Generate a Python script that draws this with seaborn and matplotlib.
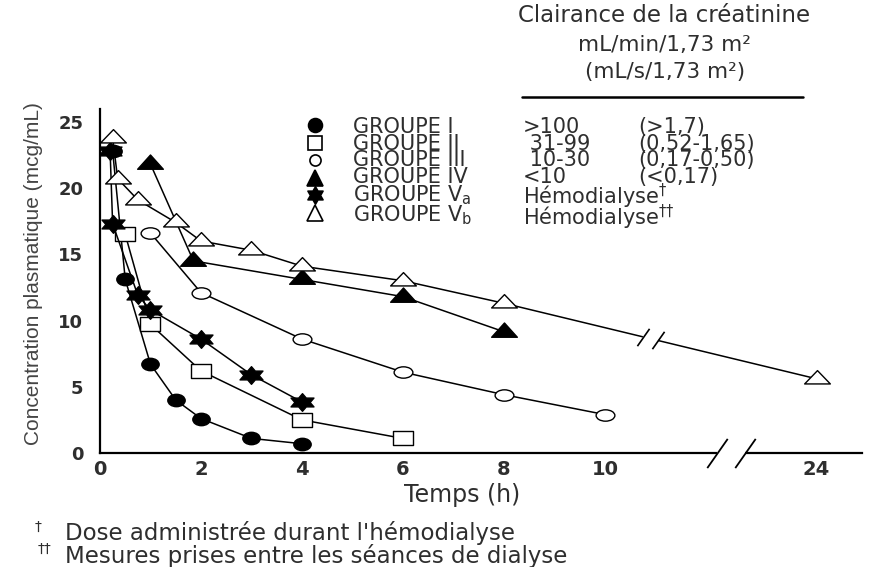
import numpy as np
import pandas as pd
import matplotlib
matplotlib.use("Agg")
import matplotlib.pyplot as plt
import seaborn as sns
from matplotlib.path import Path
from matplotlib.lines import Line2D

# ---------------- data ----------------
t_I = [0.25, 0.5, 1, 1.5, 2, 3, 4]
c_I = [22.8, 13.1, 6.7, 4.0, 2.6, 1.1, 0.7]
t_II = [0.5, 1, 2, 4, 6]
c_II = [16.5, 9.7, 6.2, 2.5, 1.1]
t_III = [1, 2, 4, 6, 8, 10]
c_III = [16.6, 12.1, 8.6, 6.1, 4.4, 2.9]
t_IV = [1, 1.85, 4, 6, 8]
c_IV = [21.8, 14.5, 13.1, 11.8, 9.15]
t_Va = [0.2, 0.25, 0.75, 1, 2, 3, 4]
c_Va = [22.8, 17.3, 11.9, 10.8, 8.6, 5.9, 3.85]
t_Vb = [0.25, 0.35, 0.75, 1.5, 2, 3, 4, 6, 8, 24]
c_Vb = [23.8, 20.7, 19.1, 17.4, 16.0, 15.3, 14.1, 13.0, 11.3, 5.6]

group_labels = ["GROUPE I", "GROUPE II", "GROUPE III", "GROUPE IV",
                r"GROUPE V$_\mathregular{a}$", r"GROUPE V$_\mathregular{b}$"]
clear_min = [">100", " 31-99", " 10-30", "<10"]
clear_dial = [r"Hémodialyse$^{\dag}$", r"Hémodialyse$^{\dag\dag}$"]
clear_s = ["(>1,7)", "(0,52-1,65)", "(0,17-0,50)", "(<0,17)"]
x_ticks = [0, 2, 4, 6, 8, 10, 24]
y_ticks = [0, 5, 10, 15, 20, 25]

header = ["Clairance de la créatinine", "mL/min/1,73 m²", "(mL/s/1,73 m²)"]
footnotes = ["Dose administrée durant l'hémodialyse",
             "Mesures prises entre les séances de dialyse"]
xlabel = "Temps (h)"
ylabel = "Concentration plasmatique (mcg/mL)"

# ---------------- styling ----------------
sns.set_style("white")
plt.rcParams["font.family"] = ["DejaVu Sans"]
TXT = "#2e2e2e"

W, H = 896, 567
def fx(px): return px / W
def fy(py): return 1 - py / H

# broken x axis through a function scale
BRK, K = 11.0, 0.2454
def fwd(x):
    x = np.asarray(x, float)
    return np.where(x <= BRK, x, BRK + (x - BRK) * K)
def inv(s):
    s = np.asarray(s, float)
    return np.where(s <= BRK, s, BRK + (s - BRK) / K)

# stretched marker shapes
def ellipse(sx):
    p = Path.unit_circle()
    return Path(p.vertices * [sx, 1], p.codes)
def rect(sx):
    v = np.array([(-0.5, -0.5), (0.5, -0.5), (0.5, 0.5), (-0.5, 0.5), (-0.5, -0.5)])
    return Path(v * [sx, 1], [Path.MOVETO] + [Path.LINETO] * 3 + [Path.CLOSEPOLY])
def tri(sx):
    v = np.array([(0, 1), (-0.866, -0.5), (0.866, -0.5), (0, 1)])
    return Path(v * [sx, 1], [Path.MOVETO, Path.LINETO, Path.LINETO, Path.CLOSEPOLY])
def hexagram(sx):
    ang = np.deg2rad(90 + 30 * np.arange(12))
    r = np.where(np.arange(12) % 2 == 0, 1.0, 0.577)
    v = np.c_[r * np.cos(ang) * sx, r * np.sin(ang)]
    v = np.vstack([v, v[:1]])
    return Path(v, [Path.MOVETO] + [Path.LINETO] * 11 + [Path.CLOSEPOLY])

series = [
    (t_I, c_I, ellipse(1.4), 12.5, "black"),
    (t_II, c_II, rect(1.57), 15.0, "white"),
    (t_III, c_III, ellipse(1.65), 13.5, "white"),
    (t_IV, c_IV, tri(1.56), 18.5, "black"),
    (t_Va, c_Va, hexagram(1.5), 16.5, "black"),
    (t_Vb, c_Vb, tri(1.67), 18.5, "white"),
]

fig = plt.figure(figsize=(W / 100, H / 100), dpi=100)
ax = fig.add_axes([fx(100), fy(453), 761.5 / W, 344.5 / H])

for i, (t, c, mk, ms, face) in enumerate(series):
    df = pd.DataFrame({"t": t, "c": c})
    sns.lineplot(data=df, x="t", y="c", ax=ax, color="black", linewidth=1.1,
                 marker=mk, markersize=ms, markerfacecolor=face,
                 markeredgecolor="black", markeredgewidth=1.0,
                 errorbar=None, legend=False, zorder=3 + i * 0.01)

ax.set_xscale("function", functions=(fwd, inv))
ax.set_xlim(0, float(inv(15.08)))
ax.set_ylim(0, 26)
ax.set_xticks(x_ticks, labels=[str(v) for v in x_ticks], fontweight="bold",
              fontsize=14, color=TXT)
ax.set_yticks(y_ticks, labels=[str(v) for v in y_ticks], fontweight="bold",
              fontsize=13, color=TXT)
ax.xaxis.set_minor_locator(matplotlib.ticker.NullLocator())
ax.tick_params(axis="x", direction="in", length=6, width=1.3, pad=5, colors="black",
               labelcolor=TXT)
ax.tick_params(axis="y", direction="in", length=6, width=1.3, pad=12, colors="black",
               labelcolor=TXT)
sns.despine(ax=ax)
for s in ("left", "bottom"):
    ax.spines[s].set_linewidth(1.6)
    ax.spines[s].set_color("black")

ax.set_xlabel(xlabel, fontsize=17, color=TXT)
ax.xaxis.set_label_coords(0.475, -0.087)
ax.set_ylabel(ylabel, fontsize=15, color="#444444",
              fontfamily=["Liberation Sans", "DejaVu Sans"])
ax.yaxis.set_label_coords(-0.075, 0.522)

# axis break marks
slash = Path([(-0.35, -0.5), (0.35, 0.5)], [Path.MOVETO, Path.LINETO])
AX_BRK_S = 12.5
xs_pair = inv([AX_BRK_S - 0.28, AX_BRK_S + 0.28])
ax.plot(xs_pair, [0, 0], color="white", lw=4, clip_on=False, zorder=5,
        solid_capstyle="butt")
ax.plot(xs_pair, [0, 0], ls="none", marker=slash, ms=21, mfc="none",
        mec="black", mew=1.3, clip_on=False, zorder=6)

# break marks on the Vb line between 8 h and 24 h
s8, s24 = float(fwd(t_Vb[-2])), float(fwd(t_Vb[-1]))
def y_on(s):
    return c_Vb[-2] + (c_Vb[-1] - c_Vb[-2]) * (s - s8) / (s24 - s8)
LN_BRK_S = 10.9
sp = np.array([LN_BRK_S - 0.15, LN_BRK_S + 0.15])
ax.plot(inv(sp), y_on(sp), color="white", lw=4, zorder=5, solid_capstyle="butt")
ax.plot(inv(sp), y_on(sp), ls="none", marker=slash, ms=12.5, mfc="none",
        mec="black", mew=1.2, zorder=6)

# header of the legend table
fig.text(fx(664), fy(15), header[0], ha="center", va="center", fontsize=16.5, color=TXT)
fig.text(fx(664), fy(45), header[1], ha="center", va="center", fontsize=15.5, color=TXT)
fig.text(fx(665), fy(72), header[2], ha="center", va="center", fontsize=15.5, color=TXT)
fig.add_artist(Line2D([fx(522), fx(803)], [fy(97), fy(97)], color="black", lw=1.8,
                      transform=fig.transFigure))

# legend table
leg_markers = [("o", 10, "black"), ("s", 9.5, "white"), ("o", 8, "white"),
               ("^", 11, "black"), (hexagram(1.0), 12.5, "black"), ("^", 11, "white")]
ROW0, ROWSTEP = 125, 17.5
for i in range(6):
    mk, ms, face = leg_markers[i]
    fig.add_artist(Line2D([fx(315)], [fy(ROW0 + i * ROWSTEP)], marker=mk, ms=ms,
                          mfc=face, mec="black", mew=1.2, ls="none",
                          transform=fig.transFigure))
LFS = 15
top0 = ROW0 - 8.2
fig.text(fx(353), fy(top0), "\n".join(group_labels), ha="left", va="top",
         fontsize=LFS, color=TXT, linespacing=0.80)
fig.text(fx(523), fy(top0), "\n".join(clear_min), ha="left", va="top",
         fontsize=LFS, color=TXT, linespacing=0.80)
fig.text(fx(638), fy(top0), "\n".join(clear_s), ha="left", va="top",
         fontsize=LFS, color=TXT, linespacing=0.80)
fig.text(fx(523), fy(ROW0 + 4 * ROWSTEP - 13), "\n".join(clear_dial), ha="left",
         va="top", fontsize=LFS, color=TXT, linespacing=0.64)

# footnotes
fig.text(fx(38), fy(527), "†", ha="center", va="center", fontsize=10, color=TXT)
fig.text(fx(44), fy(549), "††", ha="center", va="center", fontsize=10, color=TXT)
fig.text(fx(65), fy(521), "\n".join(footnotes), ha="left", va="top",
         fontsize=16.5, color=TXT, linespacing=0.95)

fig.savefig("out.png", dpi=100)
